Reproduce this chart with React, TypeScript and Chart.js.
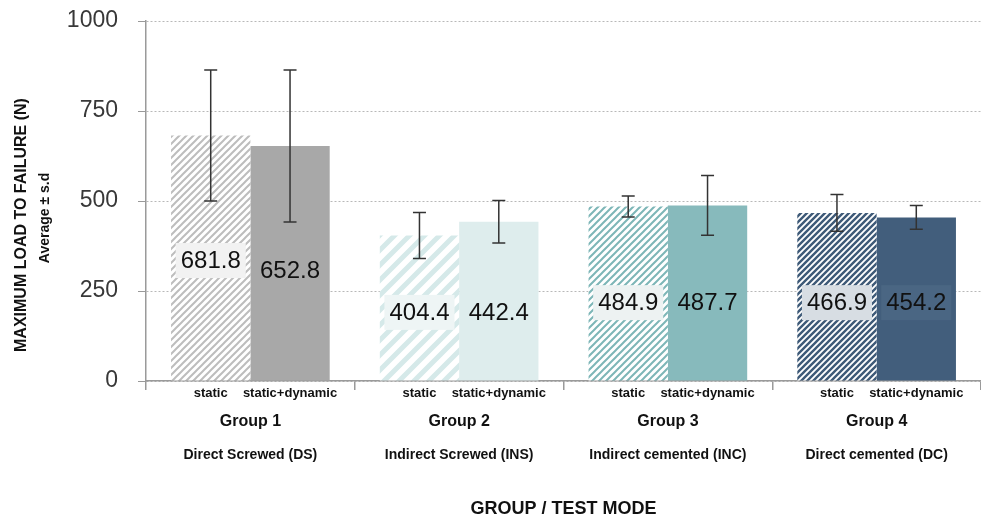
import React, { useEffect, useRef } from "react";
import { Chart, registerables } from "chart.js";

Chart.register(...registerables);

// ---------- data ----------
const groups = ["Group 1", "Group 2", "Group 3", "Group 4"];
const groupNames = [
  "Direct Screwed (DS)",
  "Indirect Screwed (INS)",
  "Indirect cemented (INC)",
  "Direct cemented (DC)",
];
const modes = ["static", "static+dynamic"];
const staticMeans = [681.8, 404.4, 484.9, 466.9];
const staticSD = [182, 64, 29, 51];
const dynamicMeans = [652.8, 442.4, 487.7, 454.2];
const dynamicSD = [211, 59, 83, 33];
const yTicks = [0, 250, 500, 750, 1000];

// ---------- layout / style ----------
const FONT = '"Liberation Sans", Arial, Helvetica, sans-serif';
const STATIC_HATCH = [
  { color: "#bdbdbd", period: 7, width: 2 },
  { color: "#d5e9e9", period: 15, width: 5 },
  { color: "#7db6b7", period: 7, width: 2 },
  { color: "#3e5a78", period: 6, width: 2.4 },
];
const DYNAMIC_COLORS = ["#a8a8a8", "#deeded", "#87babc", "#425e7c"];
const STATIC_BOX = ["#f2f2f2", "#eef5f5", "#edf2f2", "#d7dde3"];
const DYNAMIC_BOX = [null, null, null, "#4a6683"];
// value level (in axis units) where each value label is centred
const STATIC_LABEL_LEVEL = [336, 192, 219, 219];
const DYNAMIC_LABEL_LEVEL = [308, 192, 219, 219];

function makeHatch(color: string, period: number, width: number) {
  const c = document.createElement("canvas");
  c.width = period;
  c.height = period;
  const g = c.getContext("2d")!;
  g.fillStyle = "#ffffff";
  g.fillRect(0, 0, period, period);
  g.strokeStyle = color;
  g.lineWidth = width;
  g.beginPath();
  for (let k = 0; k <= 2; k++) {
    g.moveTo(-period, k * period + period);
    g.lineTo(2 * period, k * period - 2 * period);
  }
  g.stroke();
  return g.createPattern(c, "repeat")!;
}

const overlayPlugin = {
  id: "overlay",
  afterDatasetsDraw(chart: any) {
    const ctx = chart.ctx as CanvasRenderingContext2D;
    const y = chart.scales.y;
    const xs = chart.scales.x;
    const sets = [
      { means: staticMeans, sds: staticSD, levels: STATIC_LABEL_LEVEL, boxes: STATIC_BOX },
      { means: dynamicMeans, sds: dynamicSD, levels: DYNAMIC_LABEL_LEVEL, boxes: DYNAMIC_BOX },
    ];
    sets.forEach((s, di) => {
      const meta = chart.getDatasetMeta(di);
      meta.data.forEach((bar: any, i: number) => {
        const x = bar.x;
        ctx.save();
        // value label
        const text = s.means[i].toFixed(1);
        ctx.font = `24px ${FONT}`;
        const w = ctx.measureText(text).width;
        const cy = y.getPixelForValue(s.levels[i]);
        const box = s.boxes[i];
        if (box) {
          ctx.fillStyle = box;
          ctx.fillRect(x - w / 2 - 5, cy - 17, w + 10, 35);
        }
        ctx.fillStyle = "#111111";
        ctx.textAlign = "center";
        ctx.textBaseline = "middle";
        ctx.fillText(text, x, cy + 1);

        // error bar
        const top = y.getPixelForValue(s.means[i] + s.sds[i]);
        const bot = y.getPixelForValue(s.means[i] - s.sds[i]);
        ctx.strokeStyle = "#333333";
        ctx.lineWidth = 1.5;
        ctx.beginPath();
        ctx.moveTo(x, top);
        ctx.lineTo(x, bot);
        ctx.moveTo(x - 6.5, top);
        ctx.lineTo(x + 6.5, top);
        ctx.moveTo(x - 6.5, bot);
        ctx.lineTo(x + 6.5, bot);
        ctx.stroke();

        // mode label under each bar
        ctx.font = `bold 13px ${FONT}`;
        ctx.fillStyle = "#111111";
        ctx.fillText(modes[di], x, xs.top + 12);
        ctx.restore();
      });
    });
  },
  afterDraw(chart: any) {
    const ctx = chart.ctx as CanvasRenderingContext2D;
    ctx.save();
    ctx.fillStyle = "#111111";
    ctx.textAlign = "center";
    ctx.textBaseline = "middle";
    ctx.translate(22, 225);
    ctx.rotate(-Math.PI / 2);
    ctx.font = `bold 16px ${FONT}`;
    ctx.fillText("MAXIMUM LOAD TO FAILURE (N)", 0, 0);
    ctx.restore();
    ctx.save();
    ctx.fillStyle = "#111111";
    ctx.textAlign = "center";
    ctx.textBaseline = "middle";
    ctx.translate(45, 218);
    ctx.rotate(-Math.PI / 2);
    ctx.font = `bold 14px ${FONT}`;
    ctx.fillText("Average ± s.d", 0, 0);
    ctx.restore();
  },
};

export default function App() {
  const ref = useRef<HTMLCanvasElement>(null);

  useEffect(() => {
    const canvas = ref.current!;
    const patterns = STATIC_HATCH.map((h) => makeHatch(h.color, h.period, h.width));
    const chart = new Chart(canvas, {
      type: "bar",
      data: {
        labels: groups,
        datasets: [
          {
            label: modes[0],
            data: staticMeans,
            backgroundColor: patterns as any,
            borderWidth: 0,
            categoryPercentage: 0.76,
            barPercentage: 1,
          },
          {
            label: modes[1],
            data: dynamicMeans,
            backgroundColor: DYNAMIC_COLORS,
            borderWidth: 0,
            categoryPercentage: 0.76,
            barPercentage: 1,
          },
        ],
      },
      options: {
        animation: false,
        responsive: false,
        devicePixelRatio: 1,
        layout: { padding: { top: 21, left: 0, right: 0, bottom: 0 } },
        plugins: { legend: { display: false }, tooltip: { enabled: false } },
        scales: {
          y: {
            min: 0,
            max: 1000,
            afterBuildTicks: (s: any) => {
              s.ticks = yTicks.map((v) => ({ value: v }));
            },
            afterFit: (s: any) => {
              s.width = 146;
              s.paddingTop = 0;
              s.paddingBottom = 0;
            },
            ticks: {
              font: { size: 23, family: FONT },
              color: "#383838",
              padding: 20,
              callback: (v: any) => String(v),
            },
            grid: { color: "#b8b8b8", lineWidth: 1, tickLength: 8, tickColor: "#999999" },
            border: { color: "#9a9a9a", width: 1.5, dash: [2, 2] },
          },
          x: {
            weight: 0,
            afterFit: (s: any) => {
              s.height = 50;
            },
            ticks: {
              font: { size: 16, weight: "bold", family: FONT },
              color: "#111111",
              padding: 22,
            },
            grid: {
              display: true,
              drawOnChartArea: false,
              tickLength: 9,
              color: "#9a9a9a",
              lineWidth: 1.5,
            },
            border: { color: "#9a9a9a", width: 1.5 },
          },
          x2: {
            type: "category",
            position: "bottom",
            weight: 1,
            offset: true,
            labels: groupNames,
            afterFit: (s: any) => {
              s.height = 90;
            },
            ticks: {
              font: { size: 14, weight: "bold", family: FONT },
              color: "#111111",
              padding: 16,
            },
            grid: { display: false, drawTicks: false },
            border: { display: false },
            title: {
              display: true,
              text: "GROUP / TEST MODE",
              font: { size: 18, weight: "bold", family: FONT },
              color: "#111111",
              padding: { top: 0, bottom: 1 },
            },
          },
        } as any,
      },
      plugins: [overlayPlugin],
    });
    return () => chart.destroy();
  }, []);

  return (
    <div style={{ position: "absolute", left: 0, top: 0, width: 981, height: 521, background: "#fff" }}>
      <canvas ref={ref} width={981} height={521} />
    </div>
  );
}
